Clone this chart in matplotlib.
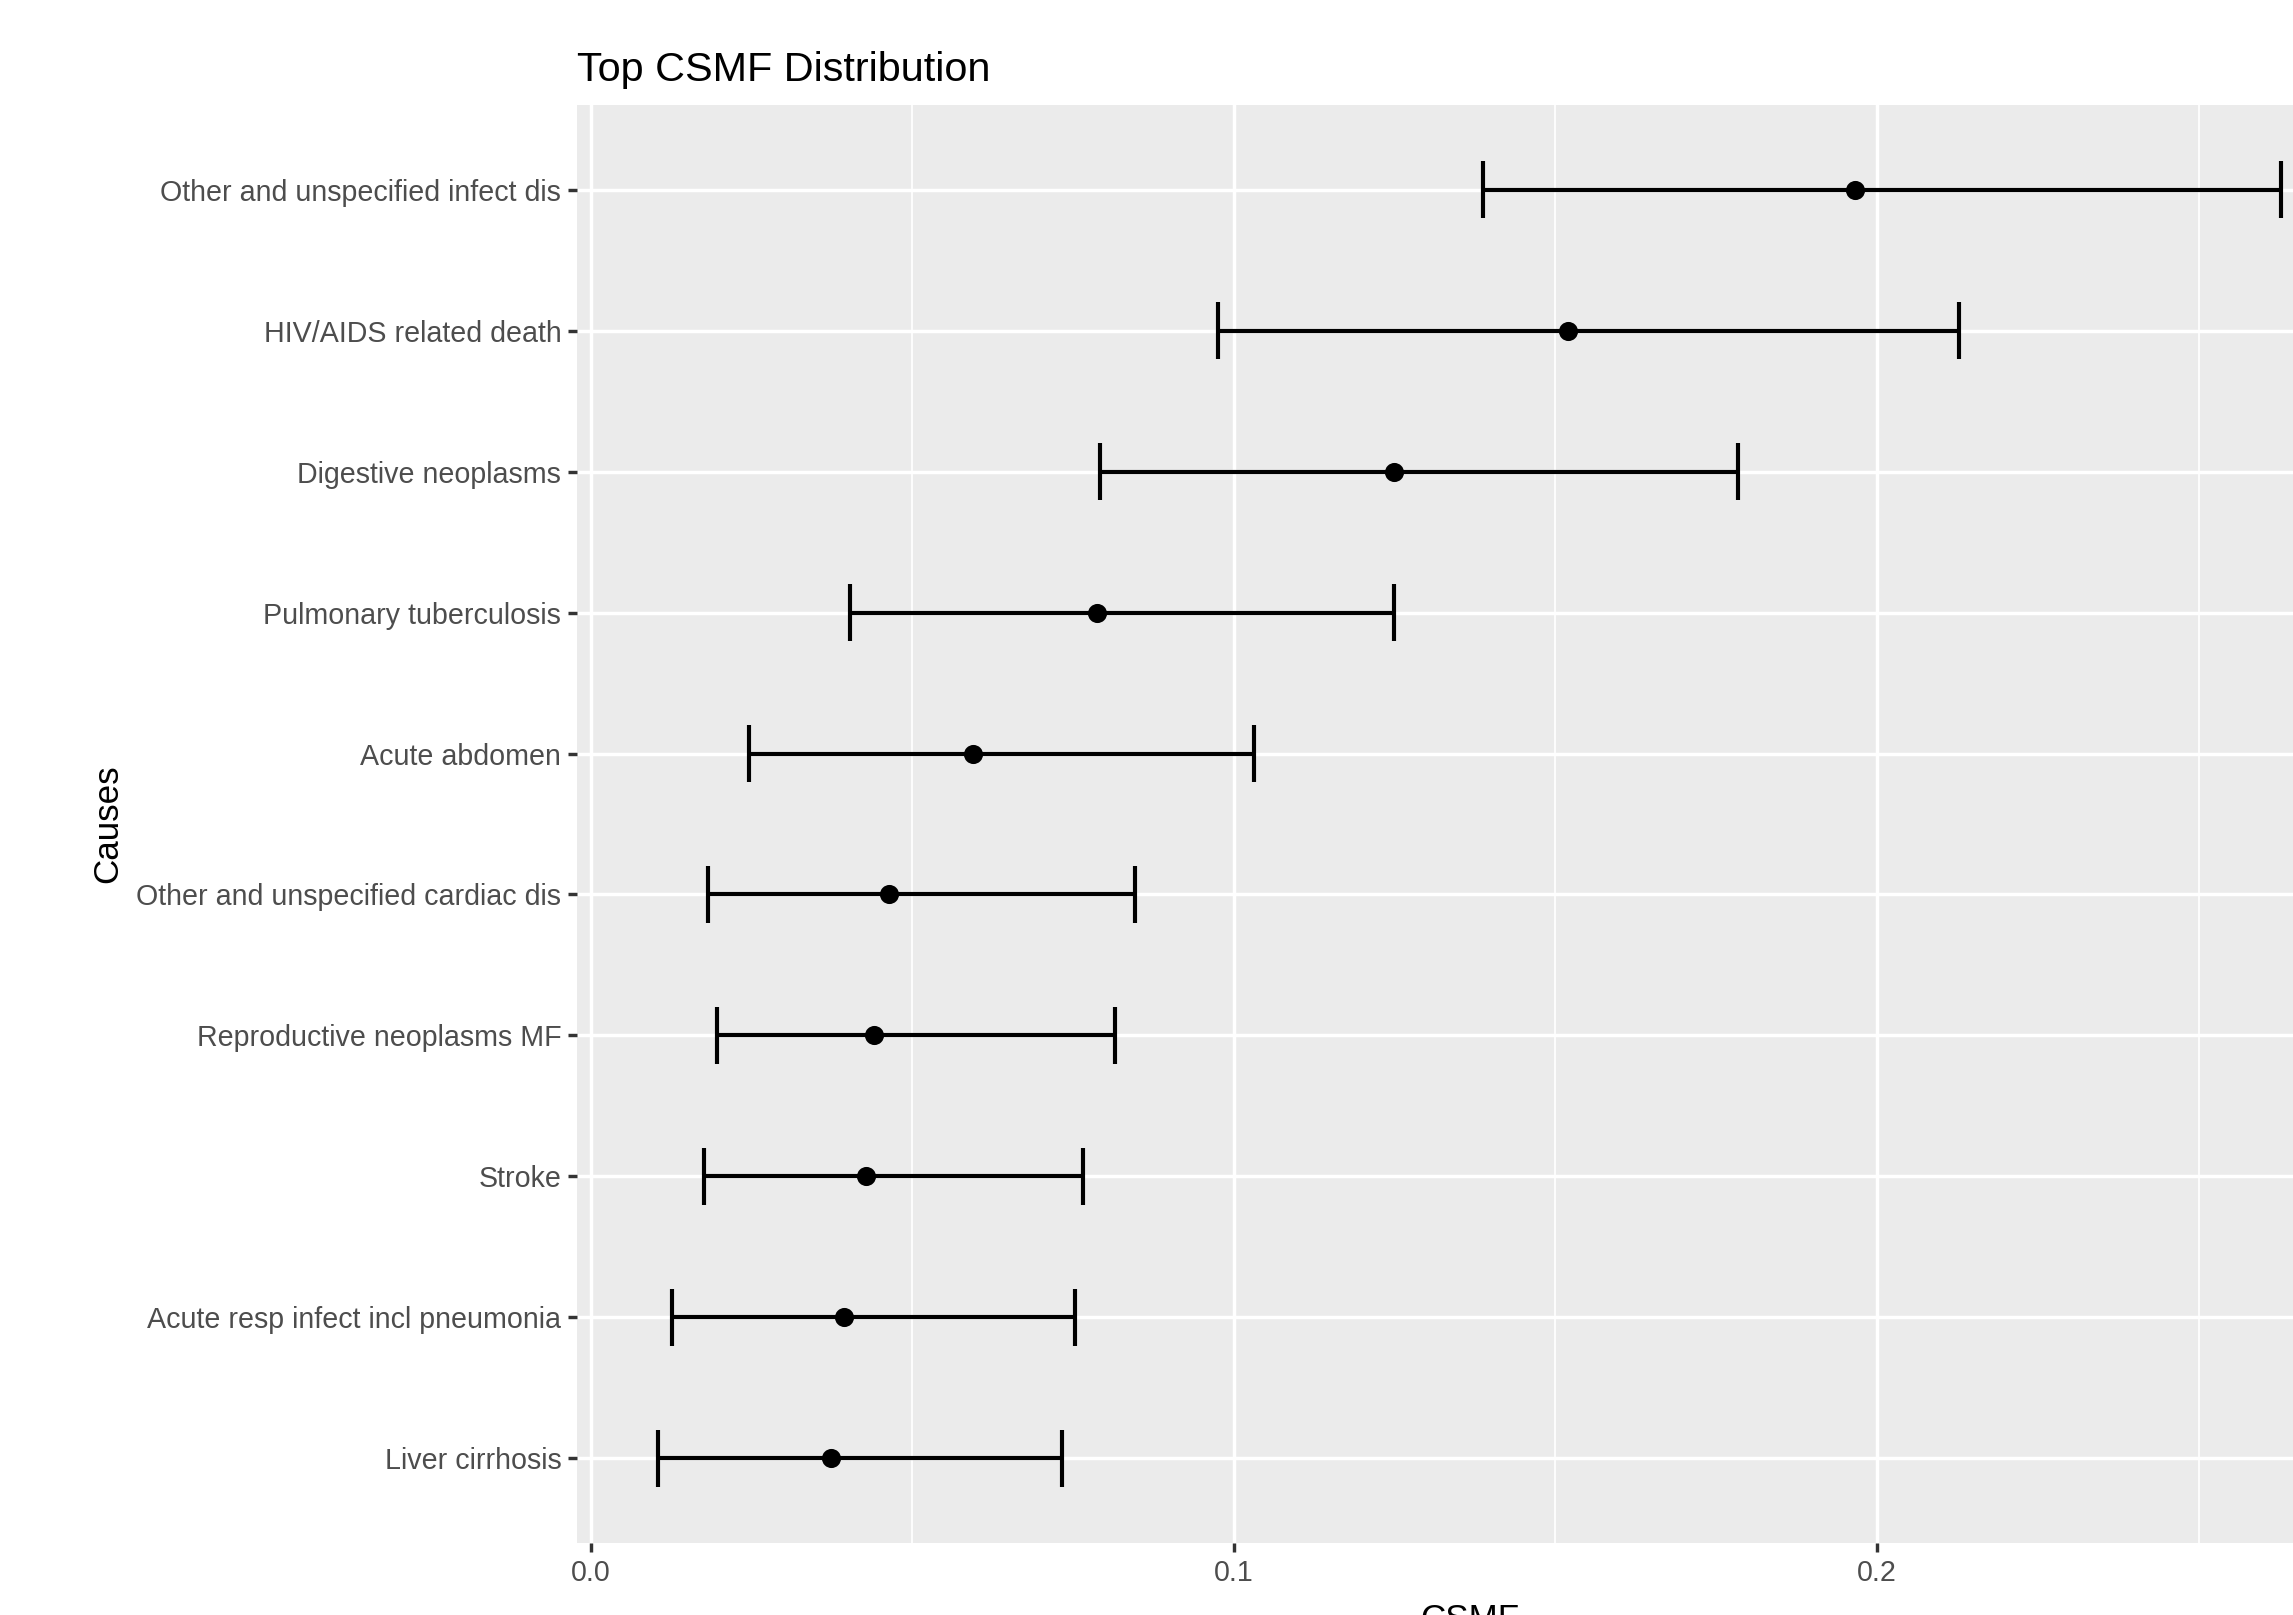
import numpy as np
import matplotlib.pyplot as plt

# data, top to bottom as shown
causes = ['Other and unspecified infect dis', 'HIV/AIDS related death', 'Digestive neoplasms',
          'Pulmonary tuberculosis', 'Acute abdomen', 'Other and unspecified cardiac dis',
          'Reproductive neoplasms MF', 'Stroke', 'Acute resp infect incl pneumonia', 'Liver cirrhosis']
csmf = [0.1966, 0.1520, 0.1249, 0.0787, 0.0594, 0.0464, 0.0441, 0.0428, 0.0394, 0.0373]
lower = [0.1388, 0.0976, 0.0792, 0.0403, 0.0246, 0.0182, 0.0196, 0.0177, 0.0127, 0.0105]
upper = [0.2628, 0.2127, 0.1784, 0.1249, 0.1031, 0.0846, 0.0815, 0.0765, 0.0753, 0.0733]

plt.rcParams['font.family'] = ['Liberation Sans', 'DejaVu Sans']

dpi = 229
fig = plt.figure(figsize=(2293 / dpi, 1615 / dpi), dpi=dpi)
# panel runs past the right edge like in the original export
ax = fig.add_axes([577 / 2293, 1 - 1543 / 1615, (2362 - 577) / 2293, (1543 - 105) / 1615])

ax.set_facecolor('#EBEBEB')
for s in ax.spines.values():
    s.set_visible(False)

y = np.arange(len(causes))
lw = 1.3
ax.hlines(y, lower, upper, color='black', lw=lw, zorder=3)
ax.vlines(lower, y - 0.2, y + 0.2, color='black', lw=lw, zorder=3)
ax.vlines(upper, y - 0.2, y + 0.2, color='black', lw=lw, zorder=3)
ax.plot(csmf, y, 'o', color='black', ms=5, zorder=4)

span = max(upper) - min(lower)
ax.set_xlim(min(lower) - 0.05 * span, max(upper) + 0.05 * span)
ax.set_ylim(len(causes) - 0.4, -0.6)

ax.set_xticks([0.0, 0.1, 0.2])
ax.set_xticklabels(['0.0', '0.1', '0.2'])
ax.set_xticks([0.05, 0.15, 0.25], minor=True)
ax.set_yticks(y)
ax.set_yticklabels(causes)

ax.grid(which='major', color='white', lw=1.07, zorder=0)
ax.grid(which='minor', axis='x', color='white', lw=0.55, zorder=0)
ax.set_axisbelow(True)

ax.tick_params(which='major', length=2.75, width=1.07, color='#333333',
               labelsize=9.0, labelcolor='#4D4D4D', pad=2.2)
ax.tick_params(which='minor', length=0)

ax.set_title('Top CSMF Distribution', loc='left', fontsize=13.0, pad=7.5)
ax.set_xlabel('CSMF', fontsize=11, labelpad=5)
ax.set_ylabel('Causes', fontsize=11)
ax.yaxis.set_label_coords(-0.2535, 0.5)

fig.savefig('out.png', dpi=dpi)
